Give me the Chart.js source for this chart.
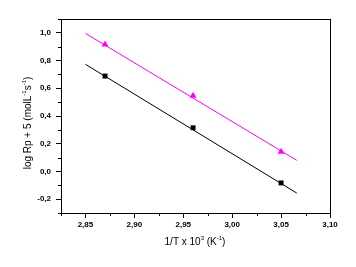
<!DOCTYPE html>
<html>
<head>
<meta charset="utf-8">
<script src="https://cdn.jsdelivr.net/npm/chart.js@4/dist/chart.umd.min.js"></script>
<style>
  html, body { margin: 0; padding: 0; background: #fff; }
  #wrap { width: 356px; height: 267px; }
</style>
</head>
<body>
<div id="wrap"><canvas id="grafico" width="356" height="267"></canvas></div>
<script>
// pontos medidos (1/T x 10^3)
const invT = [2.87, 2.96, 3.05]
const serieQuadrado = [0.688, 0.315, -0.083]
const serieTriangulo = [0.916, 0.547, 0.142]

// retas de ajuste
const ajusteX = [2.85, 3.066]
const ajusteQuadrado = [0.773, -0.156]
const ajusteTriangulo = [0.996, 0.08]

const ticksX = [2.85, 2.90, 2.95, 3.00, 3.05, 3.10]
const ticksY = [-0.2, 0.0, 0.2, 0.4, 0.6, 0.8, 1.0]
const minorX = [2.825, 2.875, 2.925, 2.975, 3.025, 3.075]
const minorY = [-0.3, -0.1, 0.1, 0.3, 0.5, 0.7, 0.9, 1.1]

const pares = (xs, ys) => xs.map((x, i) => ({ x, y: ys[i] }))
const virgula = (v, casas) => v.toFixed(casas).replace('.', ',')

const fonteTick = { family: 'Liberation Sans', size: 8, weight: 'bold' }

// moldura, ticks menores e titulos dos eixos
const molduraPlugin = {
  id: 'moldura',
  afterDraw(chart) {
    const { ctx, chartArea: a, scales } = chart
    ctx.save()
    ctx.strokeStyle = '#000'
    ctx.lineWidth = 1
    ctx.strokeRect(a.left + 0.5, a.top + 0.5, a.right - a.left, a.bottom - a.top)

    ctx.beginPath()
    minorX.forEach((v) => {
      const px = Math.round(scales.x.getPixelForValue(v)) + 0.5
      ctx.moveTo(px, a.bottom)
      ctx.lineTo(px, a.bottom + 3)
    })
    minorY.forEach((v) => {
      const py = Math.round(scales.y.getPixelForValue(v)) + 0.5
      ctx.moveTo(a.left, py)
      ctx.lineTo(a.left - 3, py)
    })
    ctx.stroke()

    ctx.fillStyle = '#000'
    ctx.textBaseline = 'alphabetic'

    // titulo x: 1/T x 10^3 (K^-1)
    const partesX = [
      ['1/T x 10', 10, 0], ['3', 6, -5], [' (K', 10, 0], ['-1', 6, -5], [')', 10, 0]
    ]
    desenharPartes(ctx, partesX, 195, 245)

    // titulo y: log Rp + 5 (molL^-1 s^-1)
    ctx.translate(31, 123)
    ctx.rotate(-Math.PI / 2)
    const partesY = [
      ['log Rp + 5 (molL', 10, 0], ['-1', 6, -5], ['s', 10, 0], ['-1', 6, -5], [')', 10, 0]
    ]
    desenharPartes(ctx, partesY, 0, 0)
    ctx.restore()
  }
}

function desenharPartes(ctx, partes, cx, y) {
  let total = 0
  partes.forEach(([t, s]) => {
    ctx.font = `${s}px "Liberation Sans"`
    total += ctx.measureText(t).width
  })
  let x = cx - total / 2
  ctx.textAlign = 'left'
  partes.forEach(([t, s, dy]) => {
    ctx.font = `${s}px "Liberation Sans"`
    ctx.fillText(t, x, y + dy)
    x += ctx.measureText(t).width
  })
}

new Chart(document.getElementById('grafico'), {
  type: 'scatter',
  data: {
    datasets: [
      {
        data: pares(ajusteX, ajusteQuadrado),
        showLine: true,
        borderColor: '#000',
        borderWidth: 1,
        pointRadius: 0
      },
      {
        data: pares(ajusteX, ajusteTriangulo),
        showLine: true,
        borderColor: '#FF00FF',
        borderWidth: 1,
        pointRadius: 0
      },
      {
        data: pares(invT, serieQuadrado),
        pointStyle: 'rect',
        pointRadius: 3.5,
        backgroundColor: '#000',
        borderColor: '#000',
        borderWidth: 0
      },
      {
        data: pares(invT, serieTriangulo),
        pointStyle: 'triangle',
        pointRadius: 4,
        backgroundColor: '#FF00FF',
        borderColor: '#FF00FF',
        borderWidth: 0
      }
    ]
  },
  options: {
    responsive: false,
    animation: false,
    layout: { padding: { top: 19, right: 26, left: 0, bottom: 0 } },
    plugins: {
      legend: { display: false },
      tooltip: { enabled: false }
    },
    scales: {
      x: {
        type: 'linear',
        min: 2.825,
        max: 3.10,
        afterBuildTicks: (s) => { s.ticks = ticksX.map((v) => ({ value: v })) },
        afterFit: (s) => { s.height = 54 },
        border: { color: '#000', width: 1 },
        grid: { drawOnChartArea: false, drawTicks: true, tickLength: 5, color: '#000' },
        ticks: {
          color: '#000',
          font: fonteTick,
          padding: 2,
          maxRotation: 0,
          callback: (v) => virgula(v, 2)
        }
      },
      y: {
        type: 'linear',
        min: -0.3,
        max: 1.1,
        afterBuildTicks: (s) => { s.ticks = ticksY.map((v) => ({ value: v })) },
        afterFit: (s) => { s.width = 61 },
        border: { color: '#000', width: 1 },
        grid: { drawOnChartArea: false, drawTicks: true, tickLength: 5, color: '#000' },
        ticks: {
          color: '#000',
          font: fonteTick,
          padding: 5,
          callback: (v) => virgula(v, 1)
        }
      }
    }
  },
  plugins: [molduraPlugin]
})
</script>
</body>
</html>
